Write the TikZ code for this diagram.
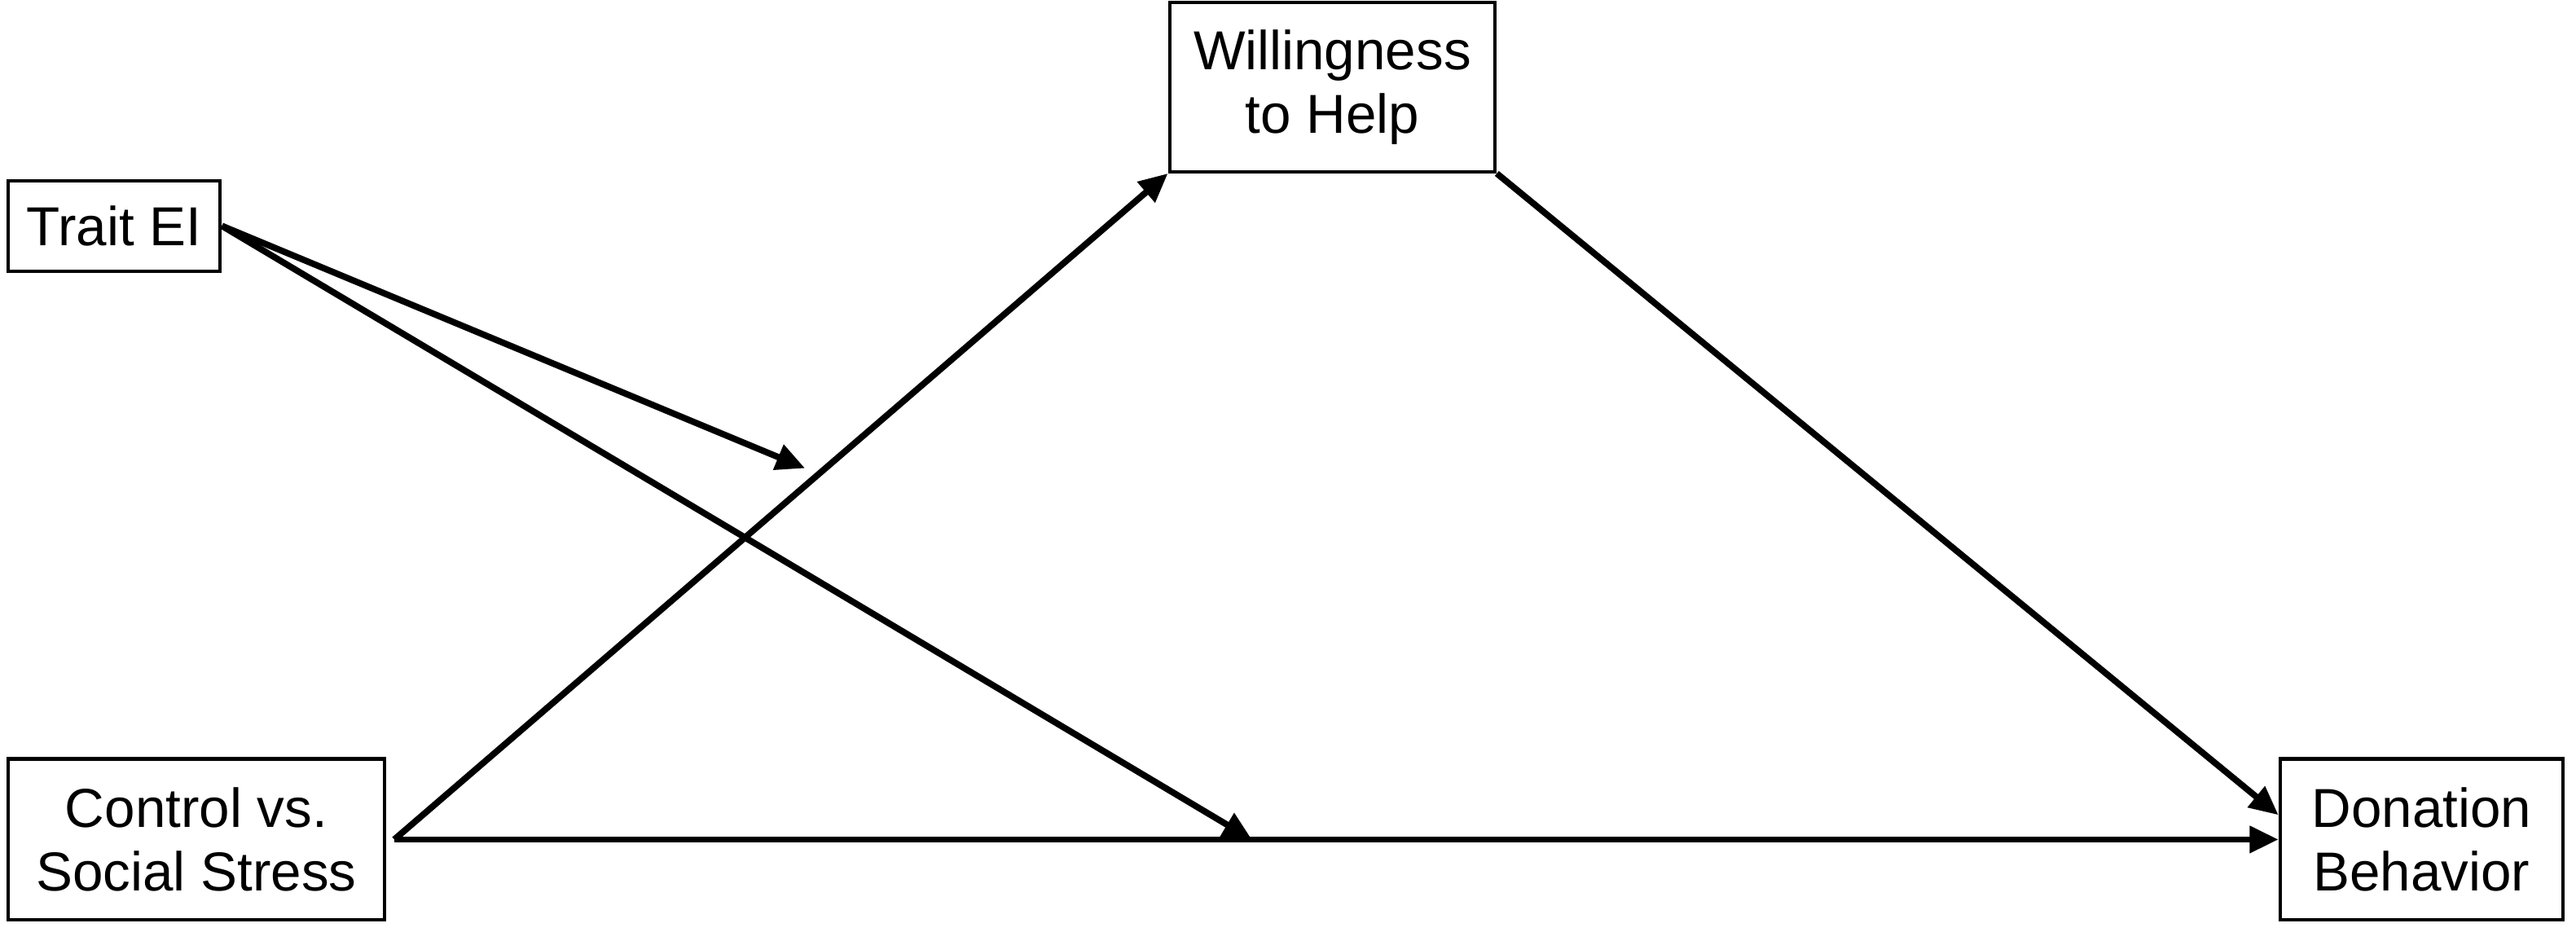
\documentclass[tikz,border=0pt]{standalone}
\usepackage{fontspec}
\setmainfont{Liberation Sans}
\usetikzlibrary{arrows.meta}
\begin{document}
\begin{tikzpicture}[x=0.01cm,y=-0.01cm,
  box/.style={draw,line width=0.6pt,inner sep=0pt,font=\fontsize{9.5}{11}\selectfont,align=center},
  arr/.style={line width=1.1pt,-{Triangle[length=5pt,width=4.5pt]}}]
\useasboundingbox (0,0) rectangle (1568,567);
\node[box,minimum width=1.29cm,minimum height=0.55cm] (trait) at (69.5,137.5) {Trait EI};
\node[box,minimum width=1.98cm,minimum height=1.03cm] (will) at (811,53) {Willingness\\to Help};
\node[box,minimum width=2.29cm,minimum height=0.98cm] (ctrl) at (119.5,511) {Control vs.\\Social Stress};
\node[box,minimum width=1.72cm,minimum height=0.98cm] (don) at (1474,511) {Donation\\Behavior};
\coordinate (c1) at (240,511);
\coordinate (m1) at (490,285);
\coordinate (m2) at (762,511);
\draw[arr] (c1) -- (will.south west);
\draw[arr] (c1) -- (don.west);
\draw[arr] (will.south east) -- ([yshift=-10]don.north west);
\draw[arr] (trait.east) -- (m1);
\draw[arr] (trait.east) -- (m2);
\end{tikzpicture}
\end{document}
